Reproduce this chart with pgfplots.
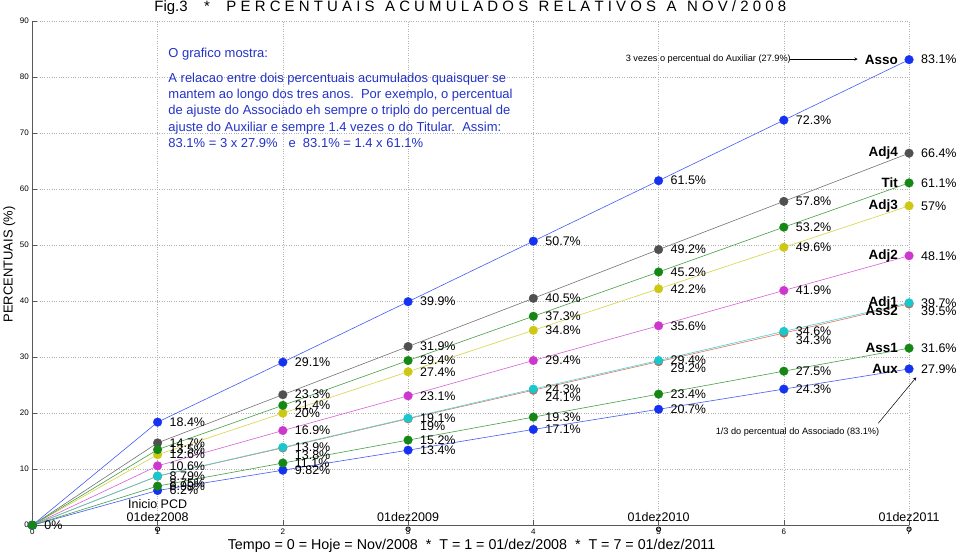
\documentclass[border=0pt]{standalone}
\usepackage{pgfplots}
\pgfplotsset{compat=1.18}
\usepackage{fontspec}
\setmainfont{Liberation Sans}
\definecolor{cBlue}{RGB}{20,50,240}
\definecolor{cGray}{RGB}{80,80,80}
\definecolor{cGreen}{RGB}{20,135,20}
\definecolor{cYellow}{RGB}{205,200,20}
\definecolor{cMag}{RGB}{205,55,205}
\definecolor{cCyan}{RGB}{25,200,205}
\definecolor{cRed}{RGB}{215,85,55}
\definecolor{cText}{RGB}{35,50,200}
\newcommand{\lab}{\fontsize{12.5}{13}\selectfont}
\newcommand{\nam}{\fontsize{13.5}{14}\selectfont\bfseries}
\newcommand{\blk}{\fontsize{13}{14}\selectfont\color{cText}}
\pgfplotsset{ser/.style={color=#1!80!white, line width=0.6pt, mark=*, mark size=4.4pt,
  mark options={fill=#1, draw=#1, line width=0.2pt},
  nodes near coords, point meta=explicit symbolic,
  every node near coord/.append style={anchor=west, xshift=12pt, text=black, font=\lab, inner sep=0pt}}}
\begin{document}
\begin{tikzpicture}
\begin{axis}[
  width=878pt, height=505pt, scale only axis,
  xmin=0, xmax=7, ymin=0, ymax=90,
  axis x line*=bottom, axis y line*=left,
  axis line style={black!65, line width=0.8pt},
  xtick={0,...,7}, ytick={0,10,...,90},
  grid=major, grid style={dotted, black!30, line width=0.6pt},
  tick align=inside, tick style={black!65}, major tick length=5pt,
  tick label style={font=\fontsize{8}{9}\selectfont},
  /pgf/number format/assume math mode=true,
  clip=false,
  xlabel={Tempo = 0 = Hoje = Nov/2008\ \ *\ \ T = 1 = 01/dez/2008\ \ *\ \ T = 7 = 01/dez/2011},
  every axis x label/.style={at={(axis description cs:0.501,0)}, anchor=center, yshift=-21pt, font=\fontsize{14.3}{15}\selectfont},
  ylabel={PERCENTUAIS (\%)},
  every axis y label/.style={at={(axis description cs:-0.0262,0.517)}, rotate=90, anchor=center, font=\fontsize{13}{14}\selectfont},
]
% Asso
\addplot[ser=cBlue] coordinates {(0,0)[\mbox{}] (1,18.4)[18.4\%] (2,29.1)[29.1\%] (3,39.9)[39.9\%] (4,50.7)[50.7\%] (5,61.5)[61.5\%] (6,72.3)[72.3\%] (7,83.1)[83.1\%]};
% Adj4
\addplot[ser=cGray] coordinates {(0,0)[\mbox{}] (1,14.7)[14.7\%] (2,23.3)[23.3\%] (3,31.9)[31.9\%] (4,40.5)[40.5\%] (5,49.2)[49.2\%] (6,57.8)[57.8\%] (7,66.4)[66.4\%]};
% Adj3
\addplot[ser=cYellow] coordinates {(0,0)[\mbox{}] (1,12.6)[12.6\%] (2,20)[20\%] (3,27.4)[27.4\%] (4,34.8)[34.8\%] (5,42.2)[42.2\%] (6,49.6)[49.6\%] (7,57)[57\%]};
% Tit
\addplot[ser=cGreen] coordinates {(0,0)[\mbox{}] (1,13.5)[13.5\%] (2,21.4)[21.4\%] (3,29.4)[29.4\%] (4,37.3)[37.3\%] (5,45.2)[45.2\%] (6,53.2)[53.2\%] (7,61.1)[61.1\%]};
% Adj2
\addplot[ser=cMag] coordinates {(0,0)[\mbox{}] (1,10.6)[10.6\%] (2,16.9)[16.9\%] (3,23.1)[23.1\%] (4,29.4)[29.4\%] (5,35.6)[35.6\%] (6,41.9)[41.9\%] (7,48.1)[48.1\%]};
% Ass2
\addplot[ser=cRed, every node near coord/.append style={yshift=-7pt}] coordinates {(0,0)[\mbox{}] (1,8.75)[8.75\%] (2,13.8)[13.8\%] (3,19)[19\%] (4,24.1)[24.1\%] (5,29.2)[29.2\%] (6,34.3)[34.3\%] (7,39.5)[39.5\%]};
% Adj1
\addplot[ser=cCyan] coordinates {(0,0)[\mbox{}] (1,8.79)[8.79\%] (2,13.9)[13.9\%] (3,19.1)[19.1\%] (4,24.3)[24.3\%] (5,29.4)[29.4\%] (6,34.6)[34.6\%] (7,39.7)[39.7\%]};
% Aux
\addplot[ser=cBlue] coordinates {(0,0)[\mbox{}] (1,6.2)[6.2\%] (2,9.82)[9.82\%] (3,13.4)[13.4\%] (4,17.1)[17.1\%] (5,20.7)[20.7\%] (6,24.3)[24.3\%] (7,27.9)[27.9\%]};
% Ass1
\addplot[ser=cGreen] coordinates {(0,0)[0\%] (1,6.99)[6.99\%] (2,11.1)[11.1\%] (3,15.2)[15.2\%] (4,19.3)[19.3\%] (5,23.4)[23.4\%] (6,27.5)[27.5\%] (7,31.6)[31.6\%]};
% small o marks on the time axis
\addplot[only marks, mark=o, mark size=2.2pt, black, line width=0.8pt] coordinates {(1,-0.7) (3,-0.7) (5,-0.7) (7,-0.7)};

% series names
\node[anchor=east, font=\nam, inner sep=0pt, xshift=-11pt] at (axis cs:7,83.1) {Asso};
\node[anchor=east, font=\nam, inner sep=0pt, xshift=-11pt] at (axis cs:7,66.4) {Adj4};
\node[anchor=east, font=\nam, inner sep=0pt, xshift=-11pt] at (axis cs:7,61.1) {Tit};
\node[anchor=east, font=\nam, inner sep=0pt, xshift=-11pt] at (axis cs:7,57) {Adj3};
\node[anchor=east, font=\nam, inner sep=0pt, xshift=-11pt] at (axis cs:7,48.1) {Adj2};
\node[anchor=east, font=\nam, inner sep=0pt, xshift=-11pt] at (axis cs:7,39.7) {Adj1};
\node[anchor=east, font=\nam, inner sep=0pt, xshift=-11pt, yshift=-7pt] at (axis cs:7,39.5) {Ass2};
\node[anchor=east, font=\nam, inner sep=0pt, xshift=-11pt] at (axis cs:7,31.6) {Ass1};
\node[anchor=east, font=\nam, inner sep=0pt, xshift=-11pt] at (axis cs:7,27.9) {Aux};

% dates
\node[anchor=base, font=\lab, inner sep=0pt] at (axis cs:1,2.9) {Inicio PCD};
\node[anchor=base, font=\lab, inner sep=0pt] at (axis cs:1,0.6) {01dez2008};
\node[anchor=base, font=\lab, inner sep=0pt] at (axis cs:3,0.6) {01dez2009};
\node[anchor=base, font=\lab, inner sep=0pt] at (axis cs:5,0.6) {01dez2010};
\node[anchor=base, font=\lab, inner sep=0pt] at (axis cs:7,0.6) {01dez2011};

% text block
\node[anchor=base west, font=\blk, inner sep=0pt] at (axis cs:1.085,83.4) {O grafico mostra:};
\node[anchor=base west, font=\blk, inner sep=0pt] at (axis cs:1.085,79.1) {A relacao entre dois percentuais acumulados quaisquer se};
\node[anchor=base west, font=\blk, inner sep=0pt] at (axis cs:1.085,76.2) {mantem ao longo dos tres anos.\ \ Por exemplo, o percentual};
\node[anchor=base west, font=\blk, inner sep=0pt] at (axis cs:1.085,73.3) {de ajuste do Associado eh sempre o triplo do percentual de};
\node[anchor=base west, font=\blk, inner sep=0pt] at (axis cs:1.085,70.3) {ajuste do Auxiliar e sempre 1.4 vezes o do Titular.\ \ Assim:};
\node[anchor=base west, font=\blk, inner sep=0pt] at (axis cs:1.085,67.4) {83.1\% = 3 x 27.9\%\ \ \ e\ \ 83.1\% = 1.4 x 61.1\%};

% annotations
\node[anchor=west, font=\fontsize{9.2}{10}\selectfont, inner sep=0pt] at (axis cs:4.737,83.2) {3 vezes o percentual do Auxiliar (27.9\%)};
\draw[-stealth, line width=0.5pt] (axis cs:6.05,83.2) -- (axis cs:6.59,83.2);
\node[anchor=west, font=\fontsize{9.2}{10}\selectfont, inner sep=0pt] at (axis cs:5.455,16.6) {1/3 do percentual do Associado (83.1\%)};
\draw[-stealth, line width=0.5pt] (axis cs:6.754,18.2) -- (axis cs:7.057,26.4);

% title
\node[anchor=base west, font=\fontsize{15}{16}\selectfont, inner sep=0pt] at (rel axis cs:0.139,1) [yshift=9pt] {Fig.3\hspace{1.1em}*\hspace{1.1em}P E R C E N T U A I S\hspace{0.7em}A C U M U L A D O S\hspace{0.7em}R E L A T I V O S\hspace{0.7em}A\hspace{0.7em}N O V / 2 0 0 8};
\end{axis}
\path[use as bounding box] (-31pt,-30pt) rectangle (929pt,526pt);
\end{tikzpicture}
\end{document}
